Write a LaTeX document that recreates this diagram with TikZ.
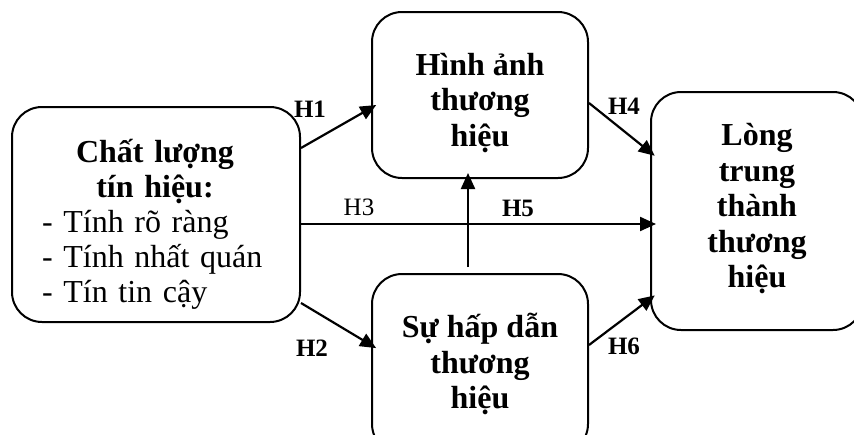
\documentclass[tikz,border=0pt]{standalone}
\usepackage{fontspec}
\setmainfont{Liberation Serif}
\usetikzlibrary{arrows.meta}
\begin{document}
\begin{tikzpicture}[x=1pt,y=-1pt,
  box/.style={draw, line width=2pt, rounded corners=30pt, inner sep=0pt},
  txt/.style={align=center, inner sep=0pt, font=\fontsize{32}{35.5}\selectfont\bfseries},
  arr/.style={line width=2.2pt, shorten >=-6pt, -{Triangle[length=16pt,width=14pt]}},
  lab/.style={inner sep=0pt, font=\fontsize{25}{27}\selectfont\bfseries},
  labn/.style={inner sep=0pt, font=\fontsize{25}{27}\selectfont}]
\useasboundingbox (0,0) rectangle (854,434);
\clip (0,0) rectangle (854,434);
% boxes
\node[box, minimum width=288pt, minimum height=215pt] (L) at (156,214.5) {};
\node[box, minimum width=216pt, minimum height=166pt] (T) at (480,95) {};
\node[box, minimum width=216pt, minimum height=180pt] (B) at (480,364) {};
\node[box, minimum width=212pt, minimum height=238pt] (R) at (757,211) {};
% texts
\node[inner sep=0pt, text width=226pt, align=left, font=\fontsize{32}{35}\selectfont] (Lt) at (155,224)
  {\centering\bfseries Chất lượng\\ tín hiệu:\par\raggedright\mdseries - Tính rõ ràng\\ - Tính nhất quán\\ - Tín tin cậy\par};
\node[txt] (Tt) at (480,103) {Hình ảnh\\ thương\\ hiệu};
\node[txt] (Bt) at (480,364) {Sự hấp dẫn\\ thương\\ hiệu};
\node[txt] (Rt) at (757,209) {Lòng\\ trung\\ thành\\ thương\\ hiệu};
% connectors
\draw[arr] ([yshift=66.5pt]L.east) -- ([yshift=-13pt]T.west);
\draw[arr] ([yshift=-88.5pt]L.east) -- ([yshift=19pt]B.west);
\draw[arr] ([yshift=-9.5pt]L.east) -- ([yshift=-13pt]R.west);
\draw[arr, shorten <=6pt] ([xshift=-12pt]B.north) -- ([xshift=-12pt]T.south);
\draw[arr] ([yshift=-8pt]T.east) -- ([yshift=59pt]R.west);
\draw[arr] ([yshift=19pt]B.east) -- ([yshift=-88pt]R.west);
% labels
\node[lab] (h1) at (310,109.5) {H1};
\node[lab] (h2) at (312,348) {H2};
\node[labn] (h3) at (359,207) {H3};
\node[lab] (h4) at (624,106) {H4};
\node[lab] (h5) at (518,208) {H5};
\node[lab] (h6) at (624,346) {H6};
\end{tikzpicture}
\end{document}
